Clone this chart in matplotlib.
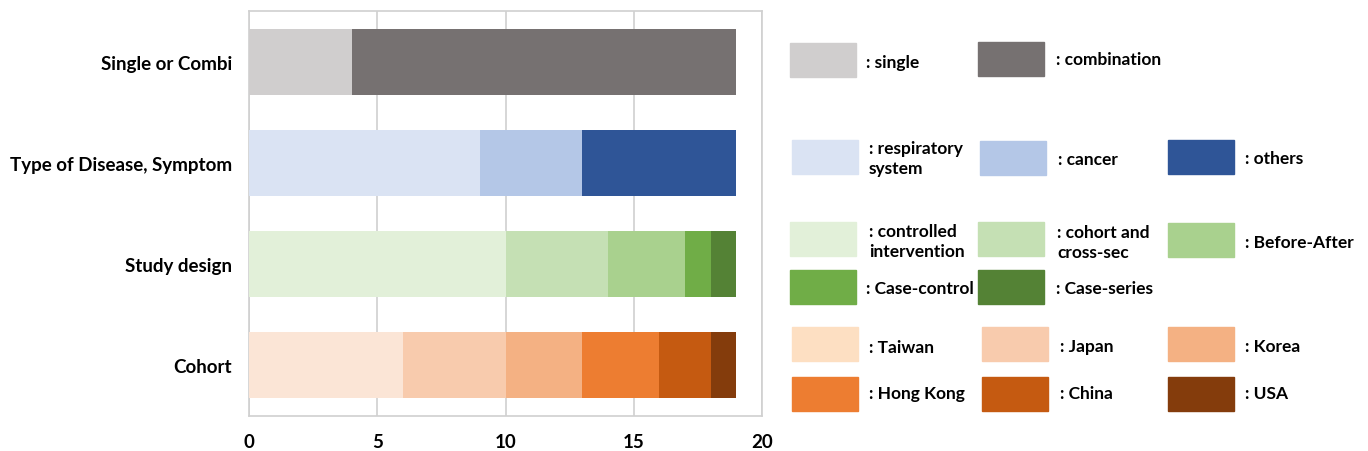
from matplotlib import pyplot as plt
from matplotlib.patches import Rectangle
import numpy as np

plt.rcParams['font.family'] = ['Lato', 'DejaVu Sans']

# categories, bottom to top
categories = ["Cohort", "Study design", "Type of Disease, Symptom", "Single or Combi"]

# each group: labels, counts, colours
combi_labels = ["single", "combination"]
combi_values = [4, 15]
combi_colors = ["#D0CECE", "#767171"]

disease_labels = ["respiratory\nsystem", "cancer", "others"]
disease_values = [9, 4, 6]
disease_colors = ["#DAE3F3", "#B4C7E7", "#2F5597"]

design_labels = ["controlled\nintervention", "cohort and\ncross-sec", "Before-After",
                 "Case-control", "Case-series"]
design_values = [10, 4, 3, 1, 1]
design_colors = ["#E2F0D9", "#C5E0B4", "#A9D18E", "#70AD47", "#548235"]

cohort_labels = ["Taiwan", "Japan", "Korea", "Hong Kong", "China", "USA"]
cohort_values = [6, 4, 3, 3, 2, 1]
cohort_colors = ["#FBE5D6", "#F8CBAD", "#F4B183", "#ED7D31", "#C55A11", "#843C0C"]
cohort_legend_colors = ["#FDDFC2", "#F8CBAD", "#F4B183", "#ED7D31", "#C55A11", "#843C0C"]

x_ticks = [0, 5, 10, 15, 20]

W, H = 1368, 452
fig = plt.figure(figsize=(W / 100, H / 100), dpi=100)
ax = fig.add_axes([249 / W, 1 - 417 / H, (762 - 249) / W, (417 - 12) / H])

groups = [
    (cohort_values, cohort_colors),
    (design_values, design_colors),
    (disease_values, disease_colors),
    (combi_values, combi_colors),
]
for i, (vals, cols) in enumerate(groups):
    left = 0
    for v, c in zip(vals, cols):
        ax.barh(i, v, left=left, height=0.65, color=c, zorder=3)
        left += v

ax.set_xlim(0, 20)
ax.set_ylim(-0.5, 3.5)
ax.set_xticks(x_ticks)
ax.set_xticklabels([str(t) for t in x_ticks], fontsize=13.5, fontweight='bold')
ax.set_yticks(range(len(categories)))
ax.set_yticklabels(categories, fontsize=13.5, fontweight='bold')
ax.tick_params(axis='x', length=0, pad=12)
ax.tick_params(axis='y', length=0, pad=12)
ax.grid(True, axis='x', color='#D0D0D0', linewidth=1.2, zorder=0)
for s in ax.spines.values():
    s.set_color('#D0D0D0')
    s.set_linewidth(1.2)

# legend layout (pixel positions of each swatch: left, top; text x, text y)
legend_pos = [
    # single or combi
    [(790, 44, 866, 63), (978, 43, 1056, 60)],
    # disease
    [(792, 141, 869, 159), (980, 142, 1058, 160), (1168, 141, 1245, 159)],
    # design
    [(790, 223, 869, 242), (978, 223, 1057, 243), (1168, 224, 1245, 243),
     (790, 271, 866, 289), (978, 271, 1056, 289)],
    # cohort
    [(792, 328, 869, 348), (982, 328, 1060, 347), (1168, 328, 1245, 347),
     (792, 378, 869, 394), (982, 378, 1060, 394), (1168, 378, 1245, 394)],
]
legend_groups = [
    (combi_labels, combi_colors),
    (disease_labels, disease_colors),
    (design_labels, design_colors),
    (cohort_labels, cohort_legend_colors),
]
for (labels, cols), pos in zip(legend_groups, legend_pos):
    for lab, c, (rx, ry, tx, ty) in zip(labels, cols, pos):
        fig.add_artist(Rectangle((rx / W, 1 - (ry + 34) / H), 66 / W, 34 / H,
                                 transform=fig.transFigure, color=c))
        fig.text(tx / W, 1 - ty / H, ": " + lab, fontsize=12.5, fontweight='bold',
                 ha='left', va='center', linespacing=1.25)

fig.savefig("out.png", dpi=100)
